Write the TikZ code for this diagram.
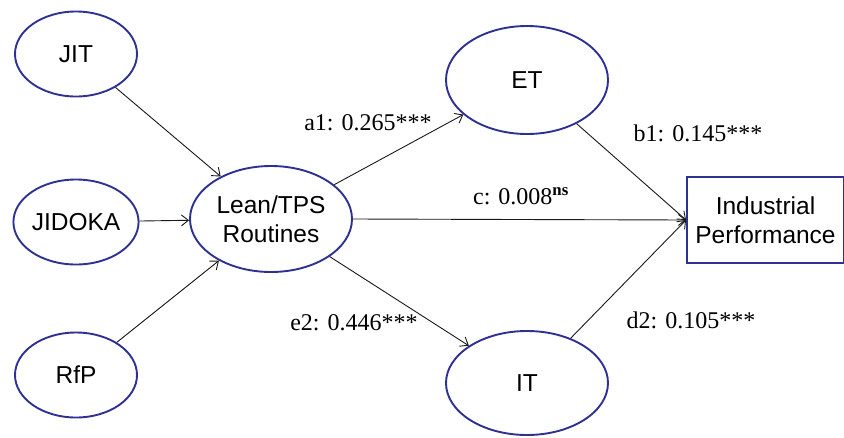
\documentclass[tikz,border=0pt]{standalone}
\usepackage{fontspec}
\setmainfont{Liberation Serif}
\newfontfamily\arialfont{Liberation Sans}
\usetikzlibrary{shapes.geometric,arrows.meta}
\definecolor{navy}{RGB}{46,49,146}
\begin{document}
\begin{tikzpicture}[x=1pt,y=-1pt,
  construct/.style={ellipse,draw=navy,line width=1.9pt,inner sep=0pt,
    minimum width=122pt,minimum height=85pt,align=center,
    font=\arialfont\fontsize{24.5}{28.5}\selectfont},
  outcome/.style={rectangle,draw=navy,line width=1.9pt,inner sep=0pt,
    minimum width=157pt,minimum height=86pt,align=center,
    font=\arialfont\fontsize{24.5}{28.5}\selectfont},
  path/.style={draw=black!90,line width=0.9pt,-{Straight Barb[length=7pt,width=11pt]}},
  coef/.style={font=\fontsize{24}{28}\selectfont,inner sep=0pt}]
  \useasboundingbox (0,0) rectangle (844,437);
  % exogenous constructs
  \node[construct] (jit) at (76,54) {JIT};
  \node[construct] (jid) at (76,222) {JIDOKA};
  \node[construct] (rfp) at (76,375) {RfP};
  % central construct
  \node[construct,minimum width=162pt,minimum height=106pt] (lean) at (271,219) {Lean/TPS\\Routines};
  % mediators
  \node[construct,minimum width=162pt,minimum height=108pt] (et) at (527,80) {ET};
  \node[construct,minimum width=162pt,minimum height=104pt] (it) at (527,383) {IT};
  % outcome
  \node[outcome] (perf) at (765.5,220) {Industrial\\Performance};
  % paths
  \draw[path] (jit) -- (lean);
  \draw[path] (jid) -- (lean);
  \draw[path] (rfp) -- (lean);
  \draw[path] (lean) -- (et);
  \draw[path] (lean.east) -- (perf.west);
  \draw[path] (lean) -- (it);
  \draw[path] (et) -- (perf.west);
  \draw[path] (it) -- (perf.west);
  % path coefficients
  \node[coef] (la1) at (368,123) {a1: 0.265***};
  \node[coef] (le2) at (354,323) {e2: 0.446***};
  \node[coef] (lb1) at (698,133) {b1: 0.145***};
  \node[coef] (lc) at (521,196) {c: 0.008\textsuperscript{\textbf{ns}}};
  \node[coef] (ld2) at (691,320) {d2: 0.105***};
\end{tikzpicture}
\end{document}
